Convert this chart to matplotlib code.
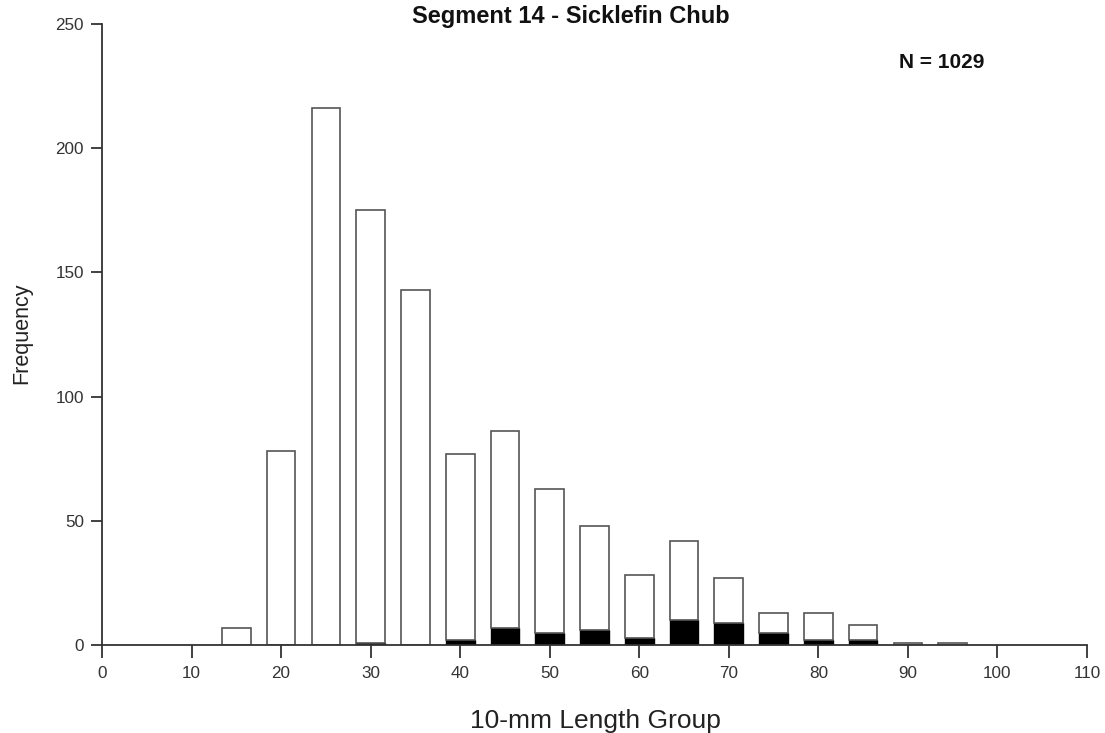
import matplotlib
matplotlib.use("Agg")
import matplotlib.pyplot as plt
import numpy as np

# 10-mm length groups (bin centres) and counts
length_groups = [15, 20, 25, 30, 35, 40, 45, 50, 55, 60, 65, 70, 75, 80, 85, 90, 95]
total_counts = [7, 78, 216, 175, 143, 77, 86, 63, 48, 28, 42, 27, 13, 13, 8, 1, 1]
dark_counts = [0, 0, 0, 1, 0, 2, 7, 5, 6, 3, 10, 9, 5, 2, 2, 0, 0]
x_ticks = list(range(0, 111, 10))
y_ticks = list(range(0, 251, 50))

plt.rcParams['font.family'] = ['Liberation Sans', 'DejaVu Sans']

fig = plt.figure(figsize=(11.05, 7.33), dpi=100)
W, H = 1105, 733
ax = fig.add_axes([102 / W, (H - 645) / H, (1087 - 102) / W, (645 - 24) / H])

dark = np.array(dark_counts)
light = np.array(total_counts) - dark
width = 3.2
edge = '#555555'

ax.bar(length_groups, dark, width=width, color='black', edgecolor='black', linewidth=1.0)
ax.bar(length_groups, light, bottom=dark, width=width, color='white', edgecolor=edge, linewidth=1.2)

ax.set_xlim(0, 110)
ax.set_ylim(0, 250)
ax.set_xticks(x_ticks)
ax.set_yticks(y_ticks)

for s in ['top', 'right']:
    ax.spines[s].set_visible(False)
for s in ['left', 'bottom']:
    ax.spines[s].set_color('#333333')
    ax.spines[s].set_linewidth(1.3)

ax.tick_params(axis='x', direction='out', length=9, width=1.3, color='#333333',
               labelsize=12.3, labelcolor='#333333', pad=6)
ax.tick_params(axis='y', direction='out', length=8, width=1.3, color='#333333',
               labelsize=12.3, labelcolor='#333333', pad=5)

fig.text(595 / W, 1 - 728 / H, '10-mm Length Group', ha='center', va='baseline',
         fontsize=19, color='#222222')
fig.text(22 / W, 1 - 333 / H, 'Frequency', ha='center', va='center', rotation=90,
         fontsize=15.5, color='#222222')

fig.text(571 / W, 1 - 17 / H, 'Segment 14 - Sicklefin Chub', ha='center', va='center',
         fontsize=17, fontweight='bold', color='#111111')
fig.text(942 / W, 1 - 62 / H, 'N = 1029', ha='center', va='center',
         fontsize=15, fontweight='bold', color='#111111')

fig.savefig('out.png', dpi=100, facecolor='white')
